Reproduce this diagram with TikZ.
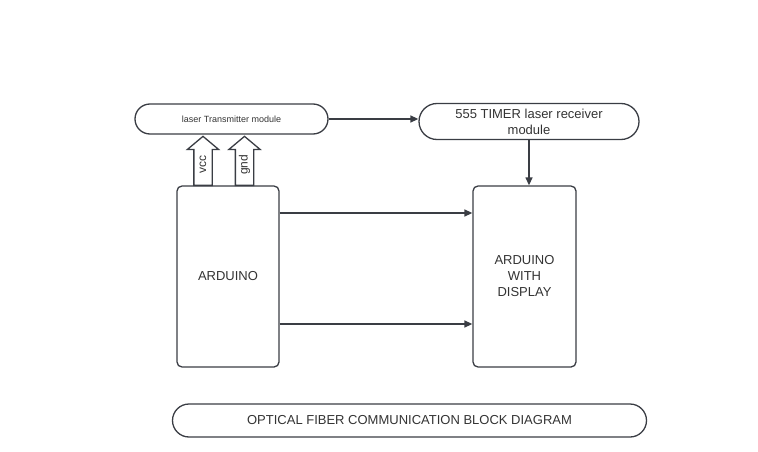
\documentclass[tikz,border=0pt]{standalone}
\usepackage{fontspec}
\setmainfont{Liberation Sans}
\usetikzlibrary{arrows.meta,shapes.arrows}
\definecolor{linegrey}{HTML}{3A3D44}
\definecolor{textgrey}{HTML}{333333}
\tikzset{
  block/.style={draw=linegrey, line width=1.3pt, rounded corners=5pt,
    minimum width=102pt, minimum height=181pt, inner sep=0pt,
    align=center, text=textgrey, font=\fontsize{13}{16}\selectfont},
  capsule/.style={draw=linegrey, line width=1.3pt, rounded corners=#1,
    inner sep=0pt, align=center, text=textgrey},
  link/.style={draw=linegrey, line width=1.3pt, -{Triangle[length=8pt,width=7pt]}},
  power/.style={draw=linegrey, line width=1.3pt, single arrow, rotate=90,
    single arrow head extend=6.5pt, single arrow tip angle=100,
    single arrow head indent=0pt, minimum height=49pt,
    text height=6pt, text depth=0pt, inner ysep=5.5pt, inner xsep=0pt,
    text=textgrey, font=\fontsize{12}{14}\selectfont}
}
\begin{document}
\begin{tikzpicture}[x=1pt,y=1pt]
  \useasboundingbox (0,0) rectangle (758,451);
  % modules on top
  \node[capsule=15pt, minimum width=193pt, minimum height=30pt,
    font=\fontsize{9}{11}\selectfont] (tx) at (231.5,332) {laser Transmitter module};
  \node[capsule=18pt, minimum width=220pt, minimum height=36pt,
    font=\fontsize{13}{16}\selectfont] (rx) at (529,329.5) {555 TIMER laser receiver\\module};
  % boards
  \node[block] (ard) at (228,174.5) {ARDUINO};
  \node[block, minimum width=103pt] (disp) at (524.5,174.5) {ARDUINO\\WITH\\DISPLAY};
  % supply arrows
  \node[power, anchor=tail] (vcc) at (203,265) {vcc};
  \node[power, anchor=tail] (gnd) at (244.5,265) {gnd};
  % links
  \draw[link] (tx.east) -- (tx.east -| rx.west);
  \draw[link] (rx.south) -- (rx.south |- disp.north);
  \draw[link] ([yshift=63.5pt]ard.east) -- ([yshift=63.5pt]ard.east -| disp.west);
  \draw[link] ([yshift=-47.5pt]ard.east) -- ([yshift=-47.5pt]ard.east -| disp.west);
  % title
  \node[capsule=16.5pt, minimum width=474pt, minimum height=33pt,
    font=\fontsize{13}{16}\selectfont] (title) at (409.5,30.5)
    {OPTICAL FIBER COMMUNICATION BLOCK DIAGRAM};
\end{tikzpicture}
\end{document}
